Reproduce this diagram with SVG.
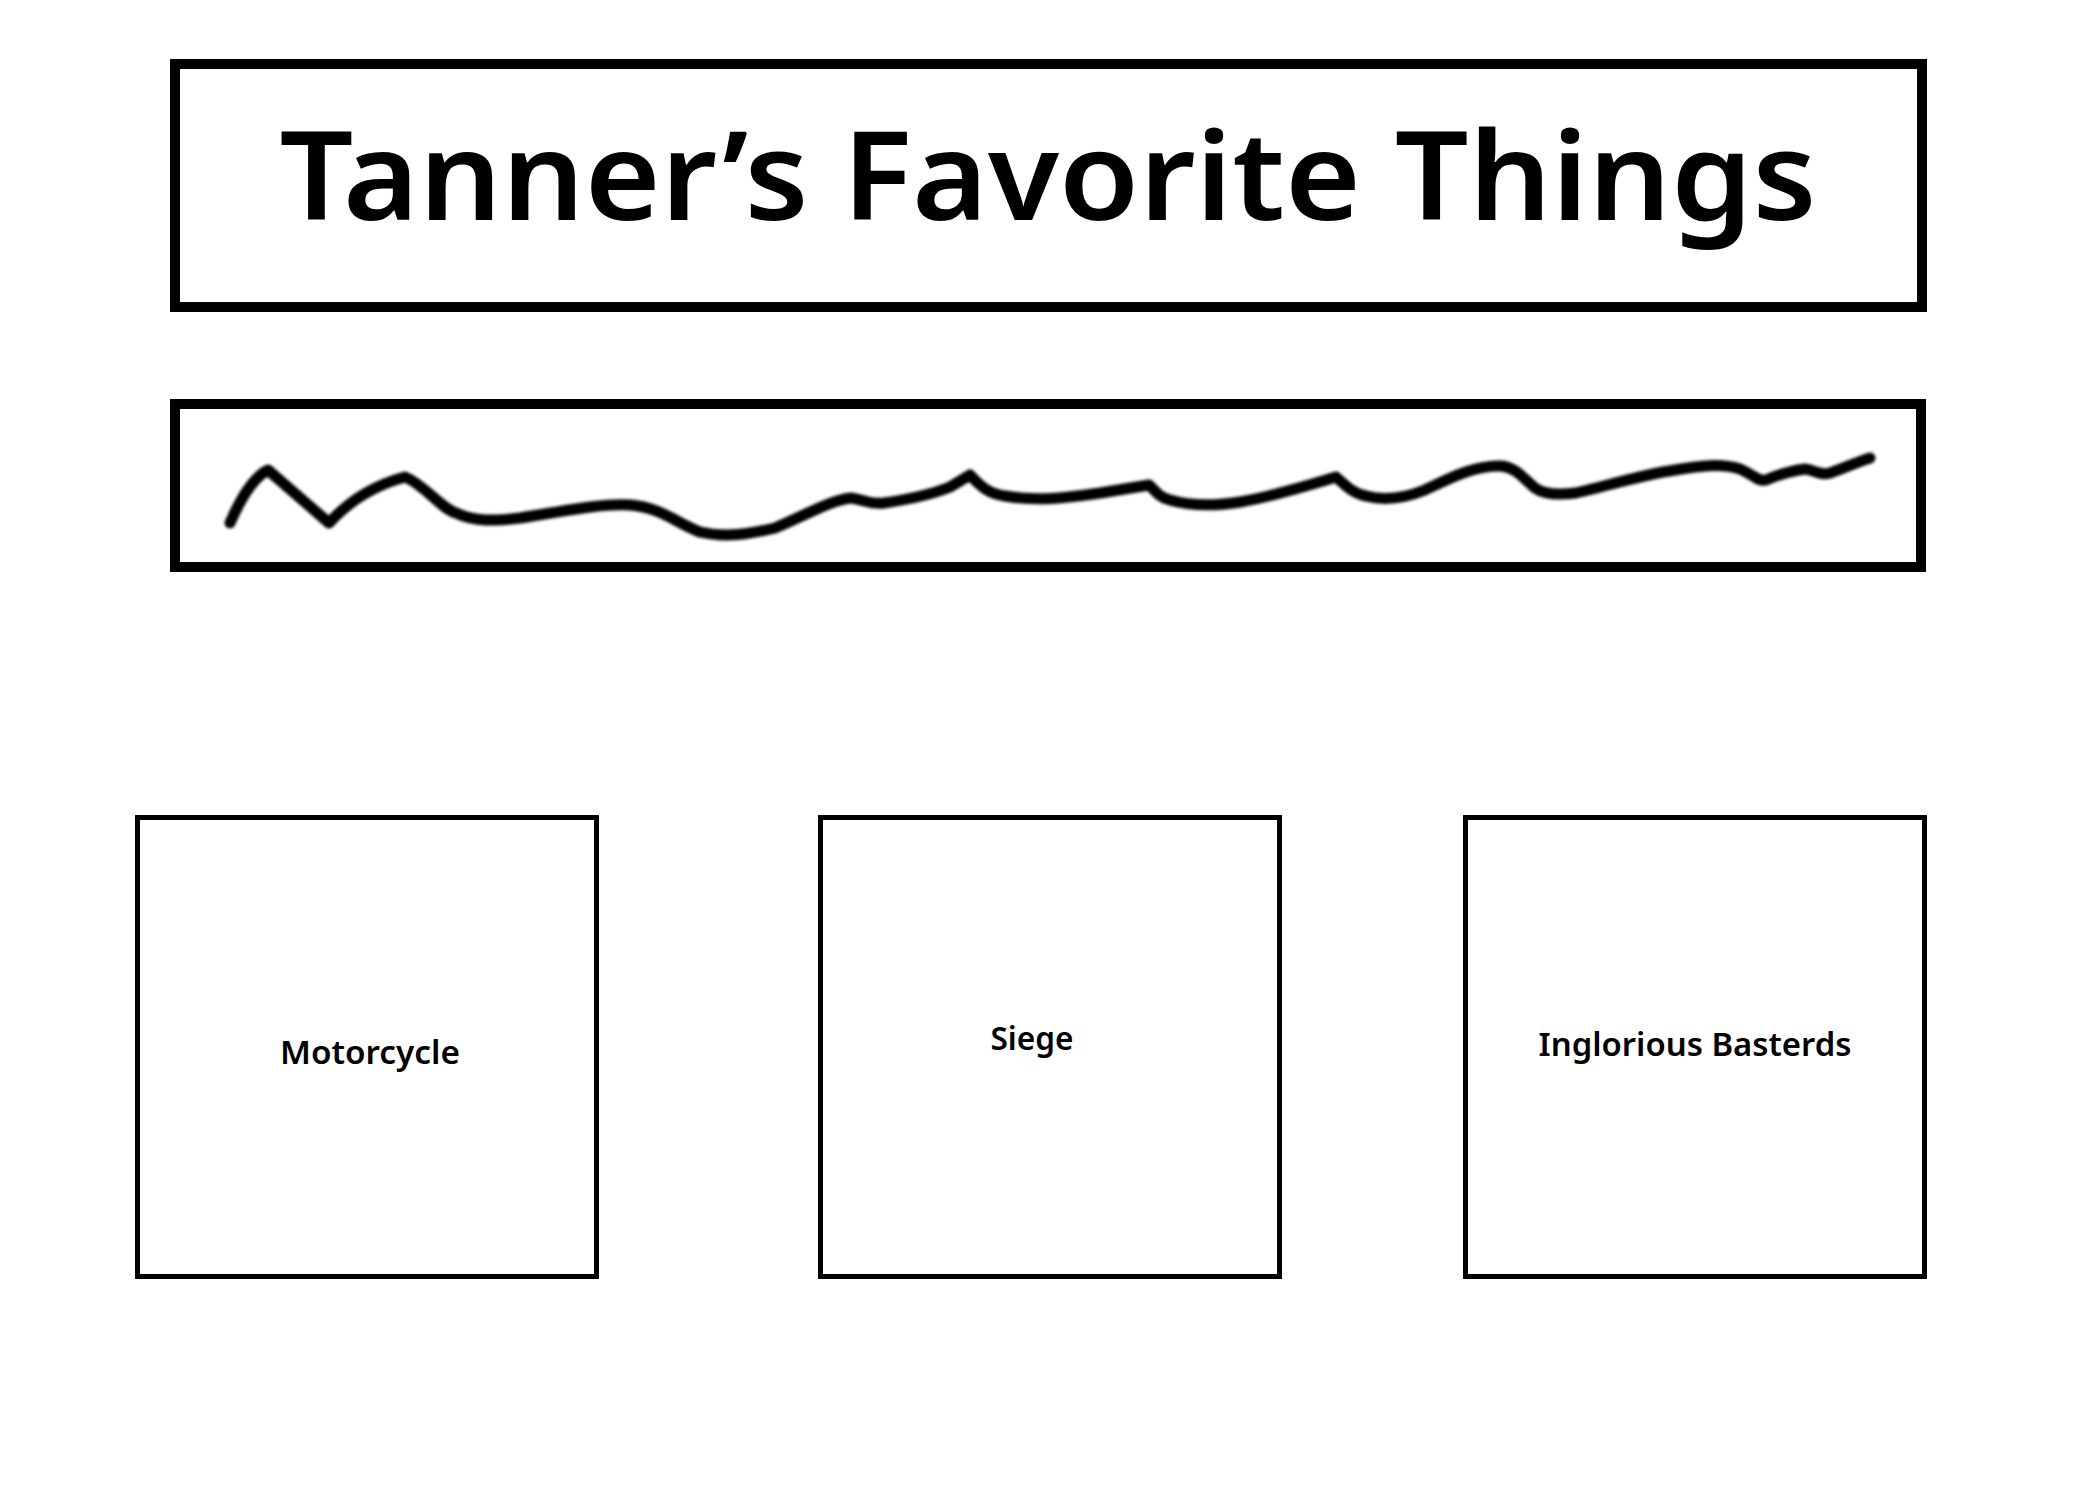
<svg xmlns="http://www.w3.org/2000/svg" width="2100" height="1500" viewBox="0 0 2100 1500">
  <style>
    .frame { fill: #ffffff; stroke: #000000; stroke-width: 10; }
    .card { fill: #ffffff; stroke: #000000; stroke-width: 5; }
    .title { font-family: "Comic Sans MS", "Noto Sans", "Liberation Sans", sans-serif; font-size: 123px; font-weight: 600; fill: #000000; }
    .label { font-family: "Comic Sans MS", "Noto Sans", "Liberation Sans", sans-serif; font-size: 33px; font-weight: 600; fill: #000000; }
    .wave { fill: none; stroke: #000000; stroke-width: 11; stroke-linecap: round; stroke-linejoin: round; }
  </style>
  <defs>
    <filter id="soft" x="-5%" y="-50%" width="110%" height="200%">
      <feGaussianBlur stdDeviation="1.7"/>
    </filter>
  </defs>
  <rect x="0" y="0" width="2100" height="1500" fill="#ffffff"/>

  <g id="title-box">
    <rect class="frame" x="175" y="64" width="1747" height="243"/>
    <text class="title" x="1048" y="220" text-anchor="middle" textLength="1537" lengthAdjust="spacingAndGlyphs">Tanner’s Favorite Things</text>
  </g>

  <g id="scribble-box">
    <rect class="frame" x="175" y="404" width="1746" height="163"/>
    <path class="wave" filter="url(#soft)" d="M230,523 C240,500 252,478 268,470 L329,523 C350,500 375,485 405,477 C425,485 440,508 456,513 C475,522 495,521 520,518 C560,512 600,503 630,505 C660,507 680,525 700,532 C725,538 750,534 775,528 C800,518 830,500 851,498 C865,500 872,505 884,503 C905,500 930,495 950,487 L970,475 C982,488 990,494 1005,496 C1040,502 1070,497 1100,493 L1149,485 C1155,490 1158,497 1170,500 C1190,506 1215,506 1240,502 C1275,496 1310,485 1336,477 C1345,485 1352,493 1366,496 C1385,501 1405,498 1425,490 C1450,478 1475,465 1501,466 C1515,467 1522,477 1535,488 C1545,495 1560,495 1575,493 C1600,488 1640,475 1675,470 C1700,466 1720,463 1740,469 C1752,474 1758,482 1766,480 C1775,476 1790,471 1805,469 C1815,470 1820,476 1830,473 C1845,468 1857,462 1870,458"/>
  </g>

  <g id="node-motorcycle">
    <rect class="card" x="137.5" y="817.5" width="459" height="459"/>
    <text class="label" x="370" y="1064" text-anchor="middle" textLength="180" lengthAdjust="spacingAndGlyphs">Motorcycle</text>
  </g>

  <g id="node-siege">
    <rect class="card" x="820.5" y="817.5" width="459" height="459"/>
    <text class="label" x="1032" y="1050" text-anchor="middle" textLength="83" lengthAdjust="spacingAndGlyphs">Siege</text>
  </g>

  <g id="node-inglorious-basterds">
    <rect class="card" x="1465.5" y="817.5" width="459" height="459"/>
    <text class="label" x="1695" y="1056" text-anchor="middle" textLength="313" lengthAdjust="spacingAndGlyphs">Inglorious Basterds</text>
  </g>

  <g id="connectors"/>
</svg>
